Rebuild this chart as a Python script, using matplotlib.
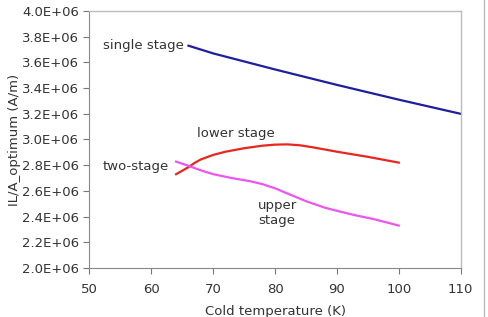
import matplotlib.pyplot as plt
from matplotlib.lines import Line2D

# --- Data ---
single_t = [66, 70, 80, 90, 100, 110]
single_v = [3.73e6, 3.67e6, 3.545e6, 3.425e6, 3.31e6, 3.20e6]

lower_t = [64, 65, 66, 67, 68, 70, 72, 75, 78, 80, 82, 84, 86, 90, 95, 100]
lower_v = [2.73e6, 2.757e6, 2.785e6, 2.818e6, 2.845e6, 2.88e6, 2.905e6, 2.932e6, 2.952e6, 2.96e6,
           2.962e6, 2.955e6, 2.94e6, 2.905e6, 2.865e6, 2.82e6]

upper_t = [64, 66, 68, 70, 73, 76, 78, 80, 82, 85, 88, 90, 93, 96, 100]
upper_v = [2.828e6, 2.795e6, 2.76e6, 2.73e6, 2.7e6, 2.675e6, 2.652e6, 2.62e6, 2.58e6, 2.52e6,
           2.47e6, 2.445e6, 2.41e6, 2.38e6, 2.33e6]

xticks = [50, 60, 70, 80, 90, 100, 110]
yticks = [2.0e6 + 0.2e6 * i for i in range(11)]

txt = "#333333"
fs = 9.5

fig = plt.figure(figsize=(4.89, 3.17), dpi=100)
ax = fig.add_axes([0.183, 0.1546, 0.759, 0.8107])

ax.plot(single_t, single_v, color="#1f1f9e", lw=1.6)
ax.plot(lower_t, lower_v, color="#e8261e", lw=1.6)
ax.plot(upper_t, upper_v, color="#ee55ee", lw=1.6)

ax.set_xlim(50, 110)
ax.set_ylim(2.0e6, 4.0e6)
ax.set_xticks(xticks)
ax.set_yticks(yticks)
ax.set_yticklabels([f"{v/1e6:.1f}E+06" for v in yticks])

ax.tick_params(labelsize=fs, colors="#777777", labelcolor=txt, length=4, width=0.8)
ax.tick_params(axis="x", pad=7)
for s in ["left", "bottom"]:
    ax.spines[s].set_color("#888888")
    ax.spines[s].set_linewidth(0.8)
for s in ["top", "right"]:
    ax.spines[s].set_color("#bbbbbb")
    ax.spines[s].set_linewidth(1.0)

ax.set_xlabel("Cold temperature (K)", fontsize=fs, color=txt, labelpad=6)
ax.set_ylabel("IL/A_optimum (A/m)", fontsize=fs, color=txt, labelpad=1)

ax.text(52.2, 3.735e6, "single stage", fontsize=fs, color=txt, va="center")
ax.text(73.7, 3.05e6, "lower stage", fontsize=fs, color=txt, va="center", ha="center")
ax.text(52.2, 2.79e6, "two-stage", fontsize=fs, color=txt, va="center")
ax.text(77.3, 2.43e6, "upper\nstage", fontsize=fs, color=txt, va="center", linespacing=1.2)

fig.add_artist(Line2D([484 / 489, 484 / 489], [0, 1], color="#bbbbbb", lw=1.0))

fig.savefig("out.png", dpi=100)
